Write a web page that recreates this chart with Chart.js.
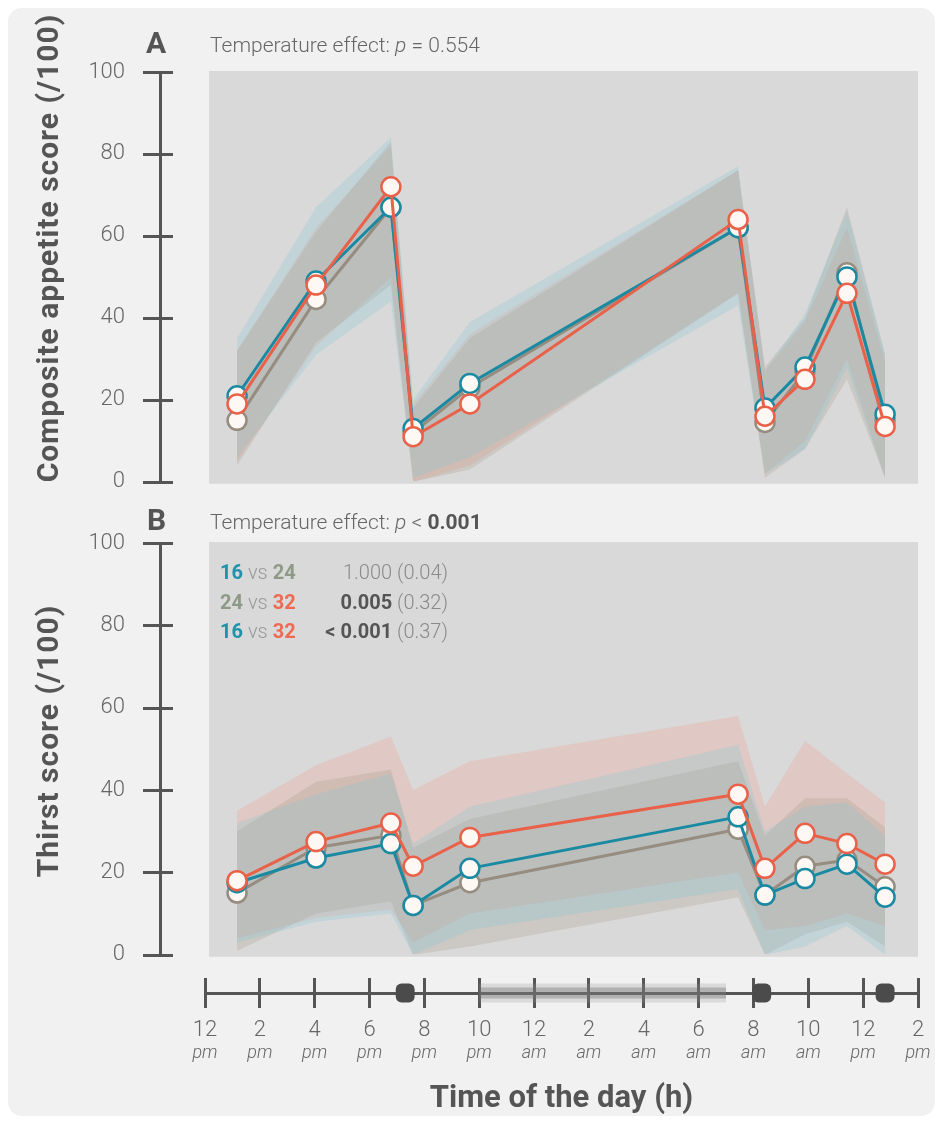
<!DOCTYPE html>
<html>
<head>
<meta charset="utf-8">
<script src="https://cdn.jsdelivr.net/npm/chart.js@4.4.1/dist/chart.umd.min.js"></script>
<style>
body { margin: 0; background: #fff; width: 942px; height: 1124px; position: relative; overflow: hidden; font-family: Roboto, "Noto Sans", sans-serif; }
#frame { position: absolute; left: 8px; top: 8px; width: 927px; height: 1108px; background: #f1f1f1; border-radius: 14px; }
canvas { position: absolute; left: 0; }
.panel { position: absolute; font-weight: 700; font-size: 30px; line-height: 30px; color: #555; }
.effect { position: absolute; font-weight: 300; font-size: 21px; line-height: 21px; color: #666; white-space: nowrap; }
.ytitle { position: absolute; font-weight: 700; font-size: 30px; letter-spacing: 1px; color: #555; white-space: nowrap; transform: translate(-50%, -50%) rotate(-90deg); }
.row { position: absolute; left: 220px; width: 228px; display: flex; justify-content: space-between; font-size: 20px; line-height: 20px; white-space: nowrap; }
.row .vs { color: #999; font-weight: 300; }
.row .val { color: #8a8a8a; font-weight: 300; }
.row .val b { color: #555; font-weight: 700; }
.t16 { color: #1f93ad; font-weight: 700; }
.t24 { color: #8e9a86; font-weight: 700; }
.t32 { color: #ee6a52; font-weight: 700; }
</style>
</head>
<body>
<div id="frame"></div>
<canvas id="chartA" width="942" height="515" style="top:0"></canvas>
<canvas id="chartB" width="942" height="493" style="top:495px"></canvas>
<canvas id="timeAxis" width="942" height="164" style="top:960px"></canvas>

<div class="ytitle" style="left:47px; top:248px">Composite appetite score (/100)</div>
<div class="ytitle" style="left:47px; top:741px">Thirst score (/100)</div>

<div class="panel" style="left:146px; top:28px">A</div>
<div class="effect" style="left:210px; top:35px">Temperature effect: <i>p</i> = 0.554</div>
<div class="panel" style="left:147px; top:505px">B</div>
<div class="effect" style="left:210px; top:512px">Temperature effect: <i>p</i> &lt; <b style="font-weight:700;color:#555">0.001</b></div>

<div class="row" style="top:562px"><span><span class="t16">16</span> <span class="vs">vs</span> <span class="t24">24</span></span><span class="val">1.000 (0.04)</span></div>
<div class="row" style="top:592px"><span><span class="t24">24</span> <span class="vs">vs</span> <span class="t32">32</span></span><span class="val"><b>0.005</b> (0.32)</span></div>
<div class="row" style="top:621px"><span><span class="t16">16</span> <span class="vs">vs</span> <span class="t32">32</span></span><span class="val"><b>&lt; 0.001</b> (0.37)</span></div>

<script>
// sampling times, in hours from midnight of day 1 (12 = noon)
const times = [13.17, 16.05, 18.78, 19.59, 21.66, 31.44, 32.42, 33.88, 35.41, 36.8];

// panel A: composite appetite score, mean and band per temperature
const appetite16 = [21, 49, 67, 13, 24, 62, 18, 28, 50, 16.5];
const appetite16Hi = [35, 67, 84, 20, 39, 77, 27, 41, 66, 31];
const appetite16Lo = [6, 31, 44, 1, 6, 43, 2, 8, 28, 1];
const appetite24 = [15, 44.5, 67, 12, 23, 62, 14.5, 27, 51, 15];
const appetite24Hi = [32, 61, 83, 18, 35, 76, 28, 40, 67, 31];
const appetite24Lo = [4, 34, 48, 0, 3, 46, 1, 8, 25, 1];
const appetite32 = [19, 48, 72, 11, 19, 64, 16, 25, 46, 13.5];
const appetite32Hi = [32, 62, 82, 19, 36, 76, 27, 39, 62, 29];
const appetite32Lo = [5, 33, 50, 0, 4, 46, 2, 10, 30, 1];

// panel B: thirst score
const thirst16 = [17.5, 23.5, 27, 12, 21, 33.5, 14.5, 18.5, 22, 14];
const thirst16Hi = [32, 39, 44, 27, 36, 51, 30, 36, 37, 29];
const thirst16Lo = [3, 8, 10, 0, 6, 16, 0, 2, 7, 0];
const thirst24 = [15, 26, 29, 12, 17.5, 30.5, 14.5, 21.5, 23, 16.5];
const thirst24Hi = [30, 42, 45, 26, 33, 47, 29, 38, 38, 31];
const thirst24Lo = [1, 10, 13, 0, 2, 14, 0, 5, 8, 2];
const thirst32 = [18, 27.5, 32, 21.5, 28.5, 39, 21, 29.5, 27, 22];
const thirst32Hi = [35, 46, 53, 40, 47, 58, 36, 52, 44, 37];
const thirst32Lo = [4, 9, 11, 3, 10, 20, 6, 7, 10, 7];

// time axis
const hourTicks = ['12', '2', '4', '6', '8', '10', '12', '2', '4', '6', '8', '10', '12', '2'];
const ampmTicks = ['pm', 'pm', 'pm', 'pm', 'pm', 'pm', 'am', 'am', 'am', 'am', 'am', 'am', 'pm', 'pm'];
const sleepPeriod = [22, 31];
const mealTimes = [19.3, 32.3, 36.8];

const FONT = 'Roboto, "Noto Sans", sans-serif';
const c16 = '#1a8aa3', c24 = '#968c80', c32 = '#ea6149';

function pts(vals) {
  return vals.map((v, i) => ({ x: times[i], y: v }));
}
function band(hi, lo, color) {
  return [
    { data: pts(hi), fill: '+1', backgroundColor: color, borderWidth: 0, pointRadius: 0, tension: 0 },
    { data: pts(lo), fill: false, borderWidth: 0, pointRadius: 0, tension: 0 }
  ];
}
function line(vals, color) {
  return {
    data: pts(vals), borderColor: color, borderWidth: 3, fill: false, tension: 0,
    pointRadius: 9.5, pointBackgroundColor: '#fdf8f3', pointBorderColor: color, pointBorderWidth: 2.5
  };
}

const plotBg = {
  id: 'plotBg',
  beforeDraw(chart) {
    const { ctx, chartArea, scales } = chart;
    const x0 = scales.x.getPixelForValue(12.15);
    ctx.save();
    ctx.fillStyle = '#d9d9d9';
    ctx.fillRect(x0, chartArea.top - 1, chartArea.right - x0, chartArea.bottom - chartArea.top + 3);
    ctx.restore();
  }
};
const tickCross = {
  id: 'tickCross',
  afterDraw(chart) {
    const { ctx, chartArea } = chart;
    const y = chart.scales.y;
    ctx.save();
    ctx.strokeStyle = '#555';
    ctx.lineWidth = 3;
    y.ticks.forEach(t => {
      const py = Math.round(y.getPixelForValue(t.value)) + 0.5;
      ctx.beginPath();
      ctx.moveTo(chartArea.left - 17, py);
      ctx.lineTo(chartArea.left + 13, py);
      ctx.stroke();
    });
    ctx.restore();
  }
};

function panel(id, s16, s16Hi, s16Lo, s24, s24Hi, s24Lo, s32, s32Hi, s32Lo, padTop, padBottom) {
  return new Chart(document.getElementById(id), {
    type: 'line',
    data: {
      datasets: [
        line(s32, c32), line(s16, c16), line(s24, c24),
        ...band(s16Hi, s16Lo, 'rgba(120,195,215,0.24)'),
        ...band(s24Hi, s24Lo, 'rgba(165,150,135,0.26)'),
        ...band(s32Hi, s32Lo, 'rgba(242,155,135,0.26)')
      ]
    },
    options: {
      responsive: false,
      animation: false,
      events: [],
      layout: { padding: { left: 0, right: 24, top: padTop, bottom: padBottom } },
      plugins: { legend: { display: false }, tooltip: { enabled: false } },
      scales: {
        x: { type: 'linear', display: false, min: 10.36, max: 38 },
        y: {
          min: 0, max: 100,
          ticks: { stepSize: 20, color: '#666', padding: 20, font: { family: FONT, size: 22, weight: 300 } },
          grid: { display: false, drawTicks: true, tickLength: 15 },
          border: { display: true, color: '#555', width: 3 },
          afterFit: s => { s.width = 160; }
        }
      }
    },
    plugins: [plotBg, tickCross]
  });
}

panel('chartA', appetite16, appetite16Hi, appetite16Lo, appetite24, appetite24Hi, appetite24Lo,
  appetite32, appetite32Hi, appetite32Lo, 72, 18);
panel('chartB', thirst16, thirst16Hi, thirst16Lo, thirst24, thirst24Hi, thirst24Lo,
  thirst32, thirst32Hi, thirst32Lo, 48, 15);

new Chart(document.getElementById('timeAxis'), {
  type: 'scatter',
  data: {
    datasets: [
      { type: 'scatter', data: mealTimes.map(x => ({ x, y: 0 })), pointStyle: 'rectRounded', pointRadius: 11,
        backgroundColor: '#4b4b4b', borderWidth: 0, clip: false },
      { type: 'line', data: sleepPeriod.map(x => ({ x, y: 0 })), borderColor: 'rgba(110,110,110,0.38)',
        borderWidth: 11, pointRadius: 0, borderCapStyle: 'butt', clip: false },
      { type: 'line', data: sleepPeriod.map(x => ({ x, y: 0 })), borderColor: 'rgba(150,150,150,0.25)',
        borderWidth: 19, pointRadius: 0, borderCapStyle: 'butt', clip: false }
    ]
  },
  options: {
    responsive: false,
    animation: false,
    events: [],
    layout: { padding: { left: 205, right: 24, top: 18, bottom: 0 } },
    plugins: { legend: { display: false }, tooltip: { enabled: false } },
    scales: {
      y: { display: false, min: 0, max: 1 },
      x: {
        type: 'linear', position: 'bottom', min: 12, max: 38, weight: 0,
        ticks: { stepSize: 2, autoSkip: false, maxRotation: 0, color: '#666', padding: 9,
          font: { family: FONT, size: 22, weight: 300 }, callback: (v, i) => hourTicks[i] },
        grid: { color: '#555', lineWidth: 3, tickLength: 15, drawOnChartArea: true },
        border: { color: '#555', width: 3 },
        afterFit: s => { s.height = 48; }
      },
      x2: {
        type: 'linear', position: 'bottom', min: 12, max: 38, weight: 1,
        ticks: { stepSize: 2, autoSkip: false, maxRotation: 0, color: '#666', padding: 2,
          font: { family: FONT, size: 18, style: 'italic', weight: 300 }, callback: (v, i) => ampmTicks[i] },
        grid: { display: false, drawTicks: false },
        border: { display: false },
        title: { display: true, text: 'Time of the day (h)', color: '#555',
          font: { family: FONT, size: 31, weight: 'bold' }, padding: { top: 0, bottom: 6 } },
        afterFit: s => { s.height = 83; }
      }
    }
  }
});
</script>
</body>
</html>
